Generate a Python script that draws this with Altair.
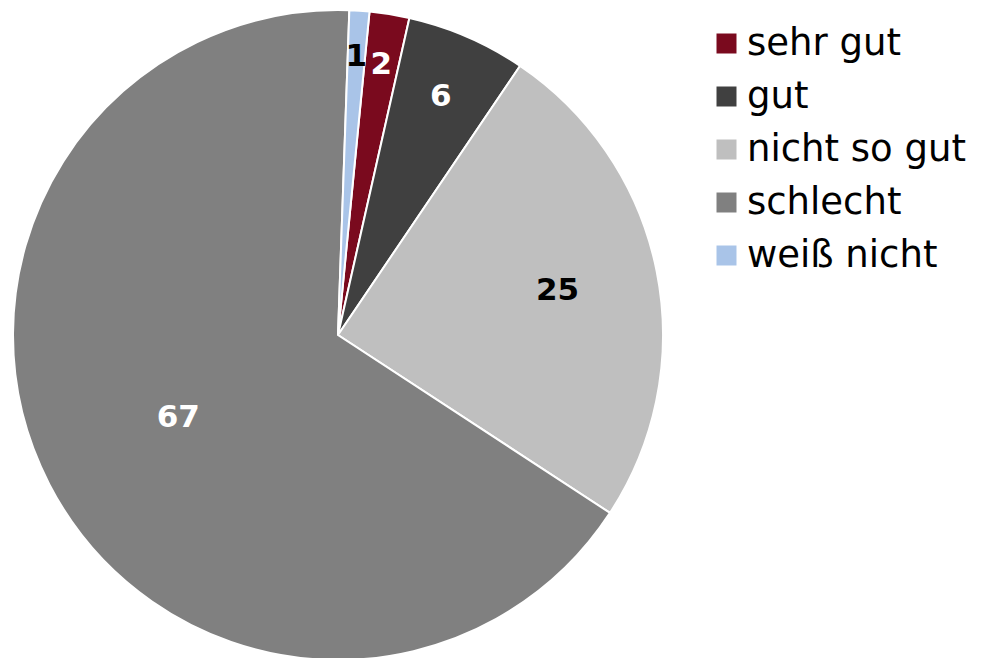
import altair as alt
import pandas as pd
import math

categories = ["sehr gut", "gut", "nicht so gut", "schlecht", "weiß nicht"]
values = [2, 6, 25, 67, 1]
stack_order = [1, 2, 3, 4, 0]
colors = ["#7A0A1E", "#404040", "#BFBFBF", "#808080", "#A9C4E8"]
dark_slices = ["sehr gut", "gut", "schlecht"]

df = pd.DataFrame({"kategorie": categories, "wert": values, "reihenfolge": stack_order})

start = math.radians(2)
theta_scale = alt.Scale(range=[start, start + 2 * math.pi])
color_scale = alt.Scale(domain=categories, range=colors)

base = alt.Chart(df).encode(
    theta=alt.Theta("wert:Q", stack=True, scale=theta_scale),
    order=alt.Order("reihenfolge:Q"),
)

pie = base.mark_arc(x=338, y=335, outerRadius=325, stroke="white", strokeWidth=2).encode(
    color=alt.Color(
        "kategorie:N",
        scale=color_scale,
        sort=categories,
        legend=alt.Legend(
            title=None,
            orient="none",
            legendX=708,
            legendY=25,
            symbolType="square",
            symbolSize=400,
            symbolStrokeWidth=0,
            labelFont="DejaVu Sans",
            labelFontSize=37,
            labelColor="black",
            labelOffset=2,
            rowPadding=15,
            padding=0,
            labelLimit=400,
        ),
    )
)

labels = base.mark_text(
    x=338, y=335, font="DejaVu Sans", fontSize=31, fontWeight="bold"
).encode(
    radius=alt.Radius("wert:Q", scale=alt.Scale(type="sqrt", domain=[1, 67], range=[279, 180], zero=False)),
    text=alt.Text("wert:Q"),
    color=alt.condition(
        alt.FieldOneOfPredicate(field="kategorie", oneOf=dark_slices),
        alt.value("white"),
        alt.value("black"),
    ),
)

chart = (
    alt.layer(pie, labels)
    .properties(width=989, height=658, autosize=alt.AutoSizeParams(type="none"), padding=0)
    .configure_view(stroke=None)
    .configure(background="white")
)

chart.save("out.html", embed_options={"renderer": "svg", "actions": False})
